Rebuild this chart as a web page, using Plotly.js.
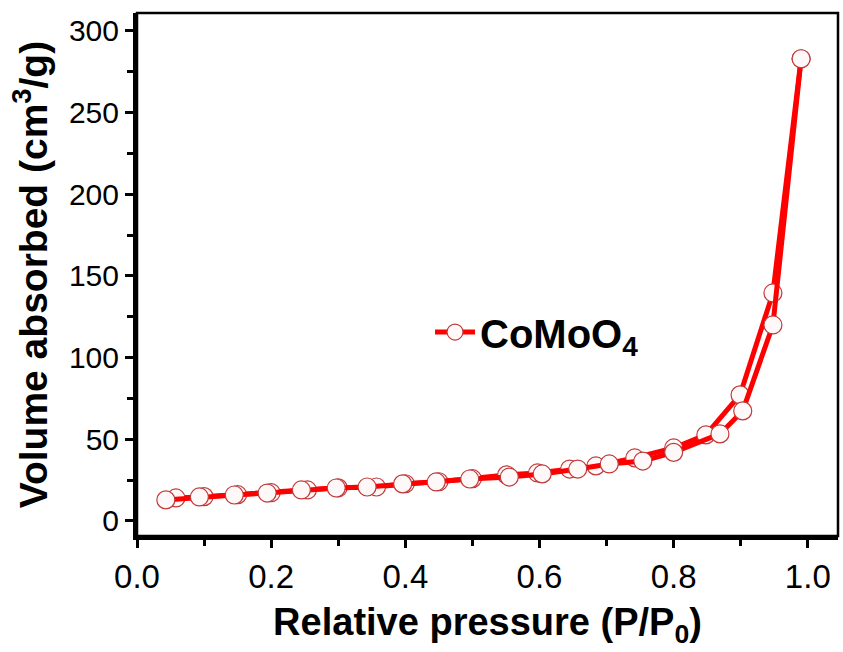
<!DOCTYPE html>
<html>
<head>
<meta charset="utf-8">
<script src="https://cdn.plot.ly/plotly-3.0.1.min.js"></script>
<style>html,body{margin:0;padding:0;background:#fff;}#chart{width:843px;height:652px;}</style>
</head>
<body>
<div id="chart"></div>
<script>
// Adsorption branch
const adsP = [0.043, 0.093, 0.145, 0.194, 0.245, 0.297, 0.343, 0.396, 0.446, 0.496, 0.555, 0.604, 0.657, 0.704, 0.754, 0.800, 0.869, 0.903, 0.948, 0.990];
const adsV = [12.9, 14.7, 15.9, 17.1, 19.0, 20.2, 20.8, 22.7, 23.9, 25.7, 26.9, 28.8, 31.8, 34.9, 36.7, 42.0, 53.3, 67.4, 120.0, 283.0];
// Desorption branch
const desP = [0.990, 0.948, 0.899, 0.848, 0.800, 0.742, 0.684, 0.645, 0.597, 0.551, 0.500, 0.450, 0.400, 0.357, 0.300, 0.254, 0.200, 0.150, 0.100, 0.058];
const desV = [283.0, 139.6, 77.2, 52.7, 44.7, 38.6, 33.7, 31.8, 29.4, 28.2, 25.9, 24.0, 22.8, 20.8, 20.3, 19.0, 17.3, 16.1, 14.9, 14.1];

const seriesName = 'CoMoO<sub>4</sub>';
const xTicks = [0.0, 0.2, 0.4, 0.6, 0.8, 1.0];
const xTickText = ['0.0', '0.2', '0.4', '0.6', '0.8', '1.0'];
const yTicks = [0, 50, 100, 150, 200, 250, 300];

const marker = {symbol: 'circle', size: 18, color: '#fff8f8', line: {color: '#c03a3a', width: 1.2}};
const line = {color: '#ff0000', width: 5};

const traces = [
  {x: desP, y: desV, mode: 'lines+markers', line: line, marker: marker, showlegend: false, name: 'des'},
  {x: adsP, y: adsV, mode: 'lines+markers', line: line, marker: marker, name: seriesName}
];

const font = 'Liberation Sans, Arial, sans-serif';
const layout = {
  width: 843, height: 652,
  margin: {l: 137, r: 5, t: 13, b: 116},
  paper_bgcolor: '#ffffff', plot_bgcolor: '#ffffff',
  font: {family: font, color: '#000'},
  showlegend: true,
  legend: {x: 0.418, y: 0.39, xanchor: 'left', yanchor: 'middle', bgcolor: 'rgba(0,0,0,0)',
           font: {family: font, size: 40, color: '#000', weight: 'bold'}, itemwidth: 40},
  xaxis: {
    range: [0, 1.045], showgrid: false, zeroline: false,
    showline: true, linewidth: 4, linecolor: '#000',
    tickmode: 'array', tickvals: xTicks, ticktext: xTickText,
    ticks: 'outside', ticklen: 8, tickwidth: 3, tickcolor: '#000',
    minor: {dtick: 0.1, tick0: 0, ticks: 'outside', ticklen: 6, tickwidth: 3, tickcolor: '#000', showgrid: false},
    tickfont: {family: font, size: 33, color: '#000'},
    title: {text: 'Relative pressure (P/P<sub>0</sub>)', font: {family: font, size: 38, color: '#000', weight: 'bold'}, standoff: 16}
  },
  yaxis: {
    range: [-9.2, 311], showgrid: false, zeroline: false,
    showline: true, linewidth: 4, linecolor: '#000',
    tickmode: 'array', tickvals: yTicks,
    ticks: 'outside', ticklen: 8, tickwidth: 3, tickcolor: '#000',
    minor: {dtick: 25, tick0: 0, ticks: 'outside', ticklen: 6, tickwidth: 3, tickcolor: '#000', showgrid: false},
    tickfont: {family: font, size: 30, color: '#000'},
    title: {text: 'Volume absorbed (cm<sup>3</sup>/g)', font: {family: font, size: 39, color: '#000', weight: 'bold'}, standoff: 10}
  },
  shapes: [
    {type: 'rect', xref: 'paper', yref: 'paper', x0: 0, x1: 1, y0: 0, y1: 1, line: {color: '#000', width: 2.5}, layer: 'above'}
  ]
};

Plotly.newPlot('chart', traces, layout, {displayModeBar: false, staticPlot: true});
</script>
</body>
</html>
